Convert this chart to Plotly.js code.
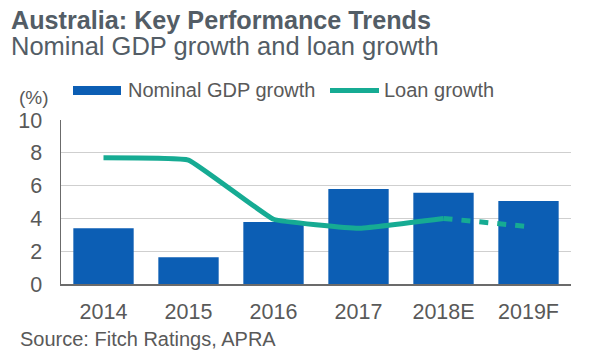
<!DOCTYPE html>
<html><head><meta charset="utf-8">
<script src="https://cdn.plot.ly/plotly-3.0.1.min.js"></script>
<style>html,body{margin:0;padding:0;background:#fff}#c{width:600px;height:360px}</style>
</head><body><div id="c"></div>
<script>
var categories = ['2014','2015','2016','2017','2018E','2019F'];
var gdpGrowth = [3.4, 1.63, 3.78, 5.79, 5.57, 5.06];
var loanGrowthActual = [7.7, 7.56, 3.95, 3.4, 4.0, null];
var loanGrowthForecast = [null, null, null, null, 4.0, 3.5];
var seriesNames = ['Nominal GDP growth', 'Loan growth'];
var yTicks = [0, 2, 4, 6, 8, 10];

var blue = '#0c5eb4', teal = '#16ab93', grey = '#595959';
var F = 'Liberation Sans, Arial, sans-serif';

var L = 61, R = 571, T = 120, B = 284;
function px(x){ return (x - L) / (R - L); }
function py(y){ return (B - y) / (B - T); }

var traces = [
  {type:'bar', x:categories, y:gdpGrowth, name:seriesNames[0], marker:{color:blue}, showlegend:false, hoverinfo:'skip'},
  {type:'scatter', mode:'lines', x:categories, y:loanGrowthActual, name:seriesNames[1],
   line:{color:teal, width:5, shape:'spline', smoothing:0.25}, showlegend:false, connectgaps:false},
  {type:'scatter', mode:'lines', x:categories, y:loanGrowthForecast, name:seriesNames[1],
   line:{color:teal, width:5, dash:'9px,9px'}, showlegend:false}
];

var layout = {
  width:600, height:360,
  margin:{l:L, r:600-R, t:T, b:360-B},
  paper_bgcolor:'#fff', plot_bgcolor:'#fff',
  font:{family:F, color:grey, size:18},
  bargap:0.29,
  xaxis:{type:'category', range:[-0.5,5.5], showgrid:false, showline:true, linecolor:'#6b6b6b', linewidth:1.5,
    ticks:'outside', ticklen:8, tickcolor:'rgba(0,0,0,0)', tickfont:{size:21.5, color:grey}, fixedrange:true},
  yaxis:{range:[0,10], tickvals:yTicks, showgrid:true, gridcolor:'#cfcfcf', gridwidth:1.3, showline:true,
    linecolor:'#6b6b6b', linewidth:1.5, zeroline:false, ticks:'outside', ticklen:13, tickcolor:'rgba(0,0,0,0)',
    tickfont:{size:21.5, color:grey}, fixedrange:true},
  shapes:[
    {type:'rect', xref:'paper', yref:'paper', x0:px(73), x1:px(121), y0:py(95), y1:py(86), fillcolor:blue, line:{width:0}},
    {type:'line', xref:'paper', yref:'paper', x0:px(330), x1:px(379), y0:py(90.5), y1:py(90.5), line:{color:teal, width:5}}
  ],
  annotations:[
    {xref:'paper', yref:'paper', x:px(9), y:py(20), xanchor:'left', yanchor:'middle', showarrow:false,
     text:'<b>Australia: Key Performance Trends</b>', font:{size:25.2, color:'#535d66', family:F}},
    {xref:'paper', yref:'paper', x:px(9), y:py(46), xanchor:'left', yanchor:'middle', showarrow:false,
     text:'Nominal GDP growth and loan growth', font:{size:25.5, color:'#535d66', family:F}},
    {xref:'paper', yref:'paper', x:px(126), y:py(90), xanchor:'left', yanchor:'middle', showarrow:false,
     text:seriesNames[0], font:{size:20, color:grey, family:F}},
    {xref:'paper', yref:'paper', x:px(382), y:py(90), xanchor:'left', yanchor:'middle', showarrow:false,
     text:seriesNames[1], font:{size:20, color:grey, family:F}},
    {xref:'paper', yref:'paper', x:px(17), y:py(97), xanchor:'left', yanchor:'middle', showarrow:false,
     text:'(%)', font:{size:19, color:grey, family:F}},
    {xref:'paper', yref:'paper', x:px(18), y:py(339), xanchor:'left', yanchor:'middle', showarrow:false,
     text:'Source: Fitch Ratings, APRA', font:{size:20, color:grey, family:F}}
  ]
};
Plotly.newPlot('c', traces, layout, {displayModeBar:false, staticPlot:true});
</script></body></html>
